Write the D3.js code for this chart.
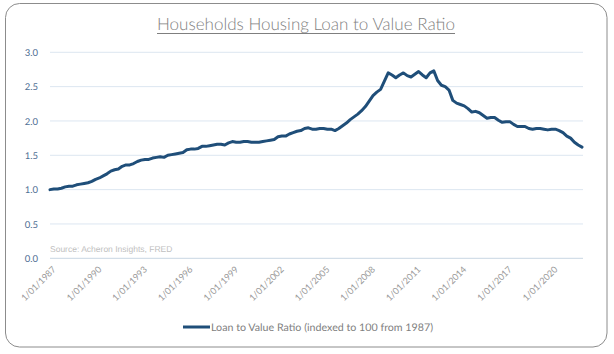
<!DOCTYPE html>
<html><head><meta charset="utf-8">
<script src="https://cdn.jsdelivr.net/npm/d3@7"></script>
<style>
html,body{margin:0;padding:0;background:#fff;}
svg{display:block;}
text{text-rendering:geometricPrecision;}
</style></head>
<body>
<svg id="chart" width="614" height="354"></svg>
<script>
const title = "Households Housing Loan to Value Ratio";
const seriesName = "Loan to Value Ratio (indexed to 100 from 1987)";
const sourceNote = "Source: Acheron Insights, FRED";
const startYear = 1987;
const quarterCount = 141;
const values = [
 1.00,1.01,1.01,1.02, 1.04,1.05,1.05,1.07, 1.08,1.09,1.10,1.12,
 1.15,1.17,1.20,1.23, 1.27,1.29,1.30,1.34, 1.36,1.36,1.38,1.41,
 1.43,1.44,1.44,1.46, 1.47,1.48,1.47,1.50, 1.51,1.52,1.53,1.54,
 1.58,1.59,1.59,1.60, 1.63,1.63,1.64,1.65, 1.66,1.66,1.65,1.68,
 1.70,1.69,1.69,1.70, 1.70,1.69,1.69,1.69, 1.70,1.71,1.72,1.73,
 1.77,1.78,1.78,1.81, 1.83,1.85,1.86,1.89, 1.90,1.88,1.88,1.89,
 1.89,1.88,1.88,1.86, 1.89,1.93,1.97,2.02, 2.06,2.10,2.15,2.21,
 2.29,2.37,2.42,2.46, 2.58,2.70,2.67,2.63, 2.67,2.70,2.66,2.64,
 2.68,2.72,2.67,2.63, 2.70,2.73,2.59,2.52, 2.50,2.45,2.30,2.26,
 2.24,2.22,2.18,2.13, 2.14,2.12,2.08,2.04, 2.05,2.05,2.01,1.98,
 1.99,1.99,1.95,1.92, 1.92,1.92,1.89,1.88, 1.89,1.89,1.88,1.87,
 1.88,1.88,1.86,1.83, 1.78,1.75,1.69,1.65, 1.62
];
const categories = d3.range(quarterCount).map(i => {
  const y = startYear + Math.floor(i / 4);
  const m = (i % 4) * 3 + 1;
  return "1/" + String(m).padStart(2, "0") + "/" + y;
});
const tickLabels = d3.range(1987, 2021, 3).map(y => "1/01/" + y);
const yTicks = [0, 0.5, 1.0, 1.5, 2.0, 2.5, 3.0];

const svg = d3.select("#chart");
svg.append("rect").attr("x", 5.5).attr("y", 3.5).attr("width", 601.5).attr("height", 343.5)
  .attr("rx", 14).attr("fill", "#fff").attr("stroke", "#8c8c8c").attr("stroke-width", 1);

const x = d3.scalePoint().domain(categories).range([50, 582]);
const y = d3.scaleLinear().domain([0, 3]).range([258.3, 52.3]);

// title
svg.append("text").attr("x", 306).attr("y", 30).attr("text-anchor", "middle")
  .attr("font-family", "Lato, 'Open Sans', sans-serif").attr("font-weight", 300)
  .attr("font-size", 17).attr("fill", "#7f7f7f")
  .attr("textLength", 298).attr("lengthAdjust", "spacingAndGlyphs").text(title);
svg.append("line").attr("x1", 157).attr("x2", 455).attr("y1", 33.5).attr("y2", 33.5)
  .attr("stroke", "#7f7f7f").attr("stroke-width", 1);

// grid
svg.append("g").selectAll("line").data(yTicks).join("line")
  .attr("x1", 50).attr("x2", 583).attr("y1", d => y(d)).attr("y2", d => y(d))
  .attr("stroke", d => d === 0 ? "#c9d6e3" : "#dce6f1").attr("stroke-width", 1);

// y axis labels
const yAxis = d3.axisLeft(y).tickValues(yTicks).tickFormat(d3.format(".1f")).tickSize(0).tickPadding(0);
const yg = svg.append("g").attr("transform", "translate(38,0)").call(yAxis);
yg.select(".domain").remove();
yg.selectAll("text").attr("font-family", "Lato, sans-serif").attr("font-size", 9.5)
  .attr("fill", "#4f6f94").attr("dy", "0.35em");

// x axis labels
const xAxis = d3.axisBottom(x).tickValues(tickLabels).tickSize(0).tickPadding(0);
const xg = svg.append("g").attr("transform", "translate(0,262)").call(xAxis);
xg.select(".domain").remove();
xg.selectAll("text").attr("font-family", "Lato, sans-serif").attr("font-size", 9)
  .attr("fill", "#999999").attr("text-anchor", "end").attr("dy", 0)
  .attr("transform", "translate(6,8) rotate(-45)");

// source
svg.append("text").attr("x", 50).attr("y", 252).attr("font-family", "'Liberation Sans', Arial, sans-serif")
  .attr("font-size", 8.5).attr("fill", "#c0c0c0").text(sourceNote);

// line
const line = d3.line().x((d, i) => x(categories[i])).y(d => y(d)).curve(d3.curveLinear);
svg.append("path").datum(values).attr("d", line).attr("fill", "none")
  .attr("stroke", "#1f4e79").attr("stroke-width", 3).attr("stroke-linejoin", "round").attr("stroke-linecap", "round");

// legend
const lg = svg.append("g").attr("transform", "translate(183,327)");
lg.append("line").attr("x1", 0).attr("x2", 27).attr("y1", 0).attr("y2", 0)
  .attr("stroke", "#1f4e79").attr("stroke-width", 3);
lg.append("text").attr("x", 28).attr("y", 3.5).attr("font-family", "Lato, sans-serif")
  .attr("font-size", 10.5).attr("fill", "#7f7f7f")
  .attr("textLength", 222).attr("lengthAdjust", "spacingAndGlyphs").text(seriesName);
</script>
</body></html>
